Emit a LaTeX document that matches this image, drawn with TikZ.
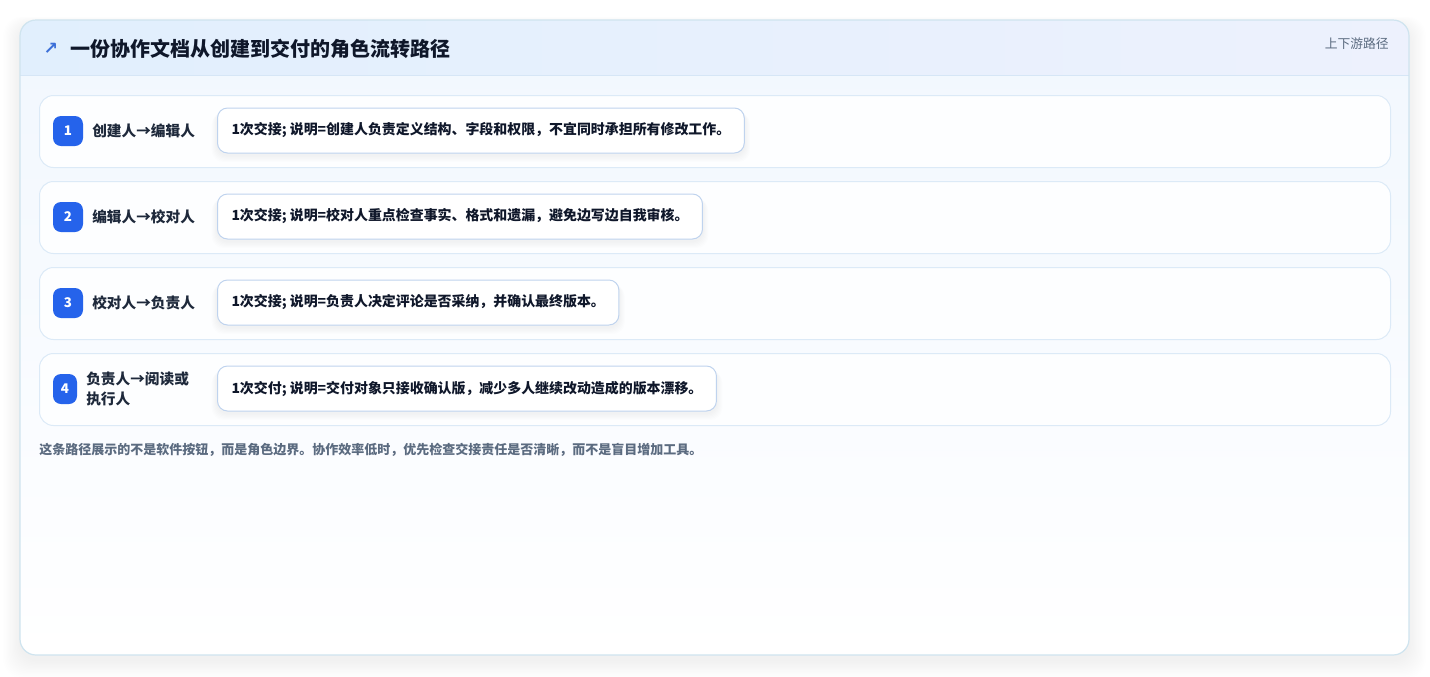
\documentclass[tikz,border=0pt]{standalone}
\usepackage{fontspec}
\setmainfont{Noto Sans CJK SC}
\newfontfamily\sym{DejaVu Sans}
\usetikzlibrary{calc}
\pgfdeclarelayer{baselayer}
\pgfdeclarelayer{shadowlayer}
\pgfsetlayers{baselayer,shadowlayer,main}
\definecolor{cardborder}{HTML}{CFE4EF}
\definecolor{hdrL}{HTML}{E1EFFD}
\definecolor{hdrR}{HTML}{EDF1FD}
\definecolor{hdrline}{HTML}{D6E6F6}
\definecolor{bodytop}{HTML}{F1F7FE}
\definecolor{rowborder}{HTML}{DCEAF7}
\definecolor{rowfill}{HTML}{FDFEFF}
\definecolor{badgeblue}{HTML}{2563EB}
\definecolor{titletext}{HTML}{0F172A}
\definecolor{lbltext}{HTML}{1E293B}
\definecolor{notebord}{HTML}{BFD3EE}
\definecolor{graytext}{HTML}{5B6B80}
\definecolor{arrowblue}{HTML}{3B6FD8}
\tikzset{
  rowbox/.style={draw=rowborder, fill=rowfill, line width=0.75pt, rounded corners=10.5pt,
    anchor=north west, minimum width=1013.25pt, minimum height=54pt, inner sep=0pt},
  badge/.style={fill=badgeblue, rounded corners=6pt, text=white, minimum width=22.5pt,
    minimum height=22.5pt, inner sep=0pt, font=\bfseries\fontsize{10}{12}\selectfont},
  lbl/.style={anchor=west, inner sep=0pt, text=lbltext, font=\bfseries\fontsize{11}{14.5}\selectfont},
  note/.style={anchor=west, draw=notebord, fill=white, line width=0.75pt, rounded corners=7.5pt,
    minimum height=33.75pt, inner xsep=10.5pt, inner ysep=0pt, text=titletext,
    font=\bfseries\fontsize{10.45}{12}\selectfont},
  softshadow/.style={fill=black, opacity=0.007, rounded corners=9pt},
}
\begin{document}
\begin{tikzpicture}[x=0.75pt,y=-0.75pt]
\useasboundingbox (0,0) rectangle (1430,676);
\begin{pgfonlayer}{baselayer}
\fill[white] (0,0) rectangle (1430,676);
% card shadow
\foreach \i in {1,...,14}{
  \fill[black, opacity=0.005, rounded corners=14pt] (20-\i*1.2,20-\i*0.6+5) rectangle (1409+\i*1.2,655+\i*1.3+5);
}
% card body
\shade[top color=bodytop, bottom color=white, rounded corners=12pt] (20,20) rectangle (1409,655);
\begin{scope}
  \clip[rounded corners=12pt] (20,20) rectangle (1409,655);
  \shade[left color=hdrL, right color=hdrR] (20,20) rectangle (1409,75);
\end{scope}
\draw[hdrline, line width=0.75pt] (20,75) -- (1409,75);
\draw[cardborder, line width=0.9pt, rounded corners=12pt] (20,20) rectangle (1409,655);
% rows
\node[rowbox] (row1) at (39,95) {};
\node[rowbox] (row2) at (39,181) {};
\node[rowbox] (row3) at (39,267) {};
\node[rowbox] (row4) at (39,353) {};
\end{pgfonlayer}
% header
\node[anchor=center, inner sep=0pt, text=arrowblue, font=\sym\bfseries\fontsize{13}{14}\selectfont] (icon) at (51,49) {↗};
\node[anchor=west, inner sep=0pt, text=titletext, font=\bfseries\fontsize{15}{17}\selectfont] (title) at (70,49) {一份协作文档从创建到交付的角色流转路径};
\node[anchor=east, inner sep=0pt, text=graytext, font=\fontsize{9.6}{12}\selectfont] (tag) at (1389,44) {上下游路径};
% row 1
\node[badge] (b1) at (68,131) {1};
\node[lbl] (l1) at (92,131) {创建人→编辑人};
\node[note] (n1) at (217,130.5) {1次交接; 说明=创建人负责定义结构、字段和权限，不宜同时承担所有修改工作。};
% row 2
\node[badge] (b2) at (68,217) {2};
\node[lbl] (l2) at (92,217) {编辑人→校对人};
\node[note] (n2) at (217,216.5) {1次交接; 说明=校对人重点检查事实、格式和遗漏，避免边写边自我审核。};
% row 3
\node[badge] (b3) at (68,303) {3};
\node[lbl] (l3) at (92,303) {校对人→负责人};
\node[note] (n3) at (217,302.5) {1次交接; 说明=负责人决定评论是否采纳，并确认最终版本。};
% row 4
\node[badge, minimum width=18pt] (b4) at (65,389) {4};
\node[lbl, align=left] (l4) at (86,389) {负责人→阅读或\\执行人};
\node[note] (n4) at (217,388.5) {1次交付; 说明=交付对象只接收确认版，减少多人继续改动造成的版本漂移。};
% note shadows
\begin{pgfonlayer}{shadowlayer}
\foreach \n in {n1,n2,n3,n4}{
  \foreach \k in {1,...,6}{
    \fill[softshadow] ($(\n.north west)+(-\k*0.9,\k*0.5+2)$) rectangle ($(\n.south east)+(\k*0.9,\k*1.1+2)$);
  }
}
\end{pgfonlayer}
% footer
\node[anchor=west, inner sep=0pt, text=graytext, font=\bfseries\fontsize{9.75}{12}\selectfont] (foot) at (39,450) {这条路径展示的不是软件按钮，而是角色边界。协作效率低时，优先检查交接责任是否清晰，而不是盲目增加工具。};
\end{tikzpicture}
\end{document}
